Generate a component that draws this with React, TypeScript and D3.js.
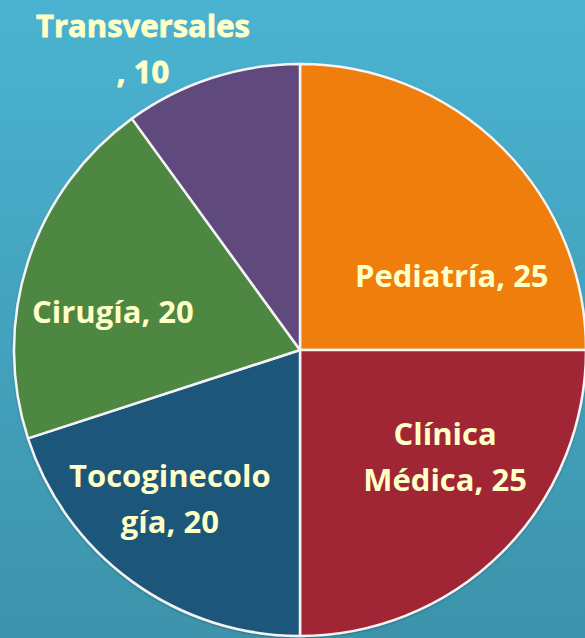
import React from 'react';
import * as d3 from 'd3';

const categories = ['Pediatría', 'Clínica Médica', 'Tocoginecología', 'Cirugía', 'Transversales'];
const values = [25, 25, 20, 20, 10];
const labelLines = [
  ['Pediatría, 25'],
  ['Clínica', 'Médica, 25'],
  ['Tocoginecolo', 'gía, 20'],
  ['Cirugía, 20'],
  ['Transversales', ', 10'],
];
const colors = ['#EF7E0B', '#A02836', '#1D577A', '#4E8742', '#604A7B'];

const W = 585;
const H = 638;
const cx = 300;
const cy = 350;
const R = 286;

// where each label sits: angle (deg, clockwise from top) and distance from centre
const labelPlace = [
  { a: 63.9, r: 169 },
  { a: 126.3, r: 180 },
  { a: 221.1, r: 198 },
  { a: 281.6, r: 191 },
  { a: 332.5, r: 340 },
];

const App = () => {
  const data = categories.map((c, i) => ({ name: c, value: values[i], i }));
  const pie = d3.pie<any>().sort(null).value((d) => d.value);
  const arcs = pie(data);
  const arc = d3.arc<any>().innerRadius(0).outerRadius(R);

  return (
    <svg width={W} height={H} style={{ position: 'fixed', left: 0, top: 0 }}>
      <defs>
        <linearGradient id="bg" x1="0" y1="0" x2="0" y2="1">
          <stop offset="0%" stopColor="#4AB3D1" />
          <stop offset="100%" stopColor="#3D93AB" />
        </linearGradient>
        <filter id="sh" x="-10%" y="-10%" width="120%" height="120%">
          <feDropShadow dx="0" dy="1" stdDeviation="1.2" floodColor="#000" floodOpacity="0.25" />
        </filter>
      </defs>
      <rect width={W} height={H} fill="url(#bg)" />
      <g transform={`translate(${cx},${cy})`} filter="url(#sh)">
        {arcs.map((d, i) => (
          <path key={i} d={arc(d) as string} fill={colors[i]} stroke="#F4F4F4" strokeWidth={2.5} strokeLinejoin="round" />
        ))}
      </g>
      <g transform={`translate(${cx},${cy})`}>
        {labelLines.map((lines, i) => {
          const p = labelPlace[i];
          const t = (p.a * Math.PI) / 180;
          const x = p.r * Math.sin(t);
          const y = -p.r * Math.cos(t);
          const lh = 46;
          const y0 = y - ((lines.length - 1) * lh) / 2;
          return (
            <text
              key={i}
              textAnchor="middle"
              fontFamily="'Open Sans', sans-serif"
              fontWeight="bold"
              fontSize={31}
              fill="#FFFFC8"
              stroke={i === 4 ? '#FFFFC8' : 'none'}
              strokeWidth={i === 4 ? 0.8 : 0}
            >
              {lines.map((l, j) => (
                <tspan key={j} x={x} y={y0 + j * lh} dy="0.36em">
                  {l}
                </tspan>
              ))}
            </text>
          );
        })}
      </g>
    </svg>
  );
};

export default App;
